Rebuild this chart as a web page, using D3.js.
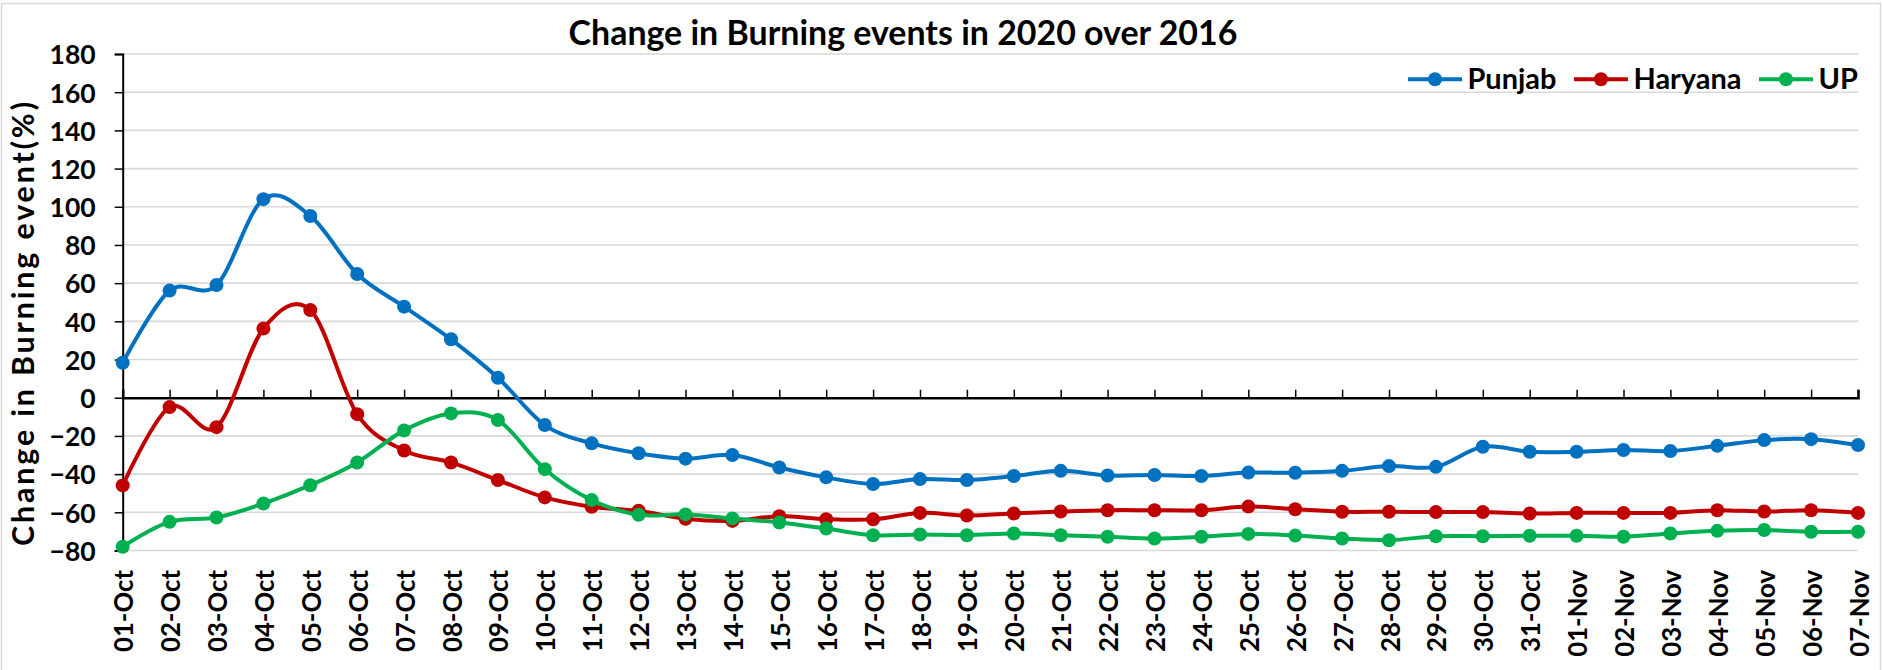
<!DOCTYPE html>
<html>
<head>
<meta charset="utf-8">
<script src="https://cdn.jsdelivr.net/npm/d3@7"></script>
<style>
  body { margin: 0; background: #fff; }
  svg { display: block; font-family: Lato, "Open Sans", sans-serif; font-weight: bold; }
</style>
</head>
<body>
<svg id="chart" width="1883" height="670"></svg>
<script>
"use strict";
const dates = ["01-Oct","02-Oct","03-Oct","04-Oct","05-Oct","06-Oct","07-Oct","08-Oct","09-Oct","10-Oct",
  "11-Oct","12-Oct","13-Oct","14-Oct","15-Oct","16-Oct","17-Oct","18-Oct","19-Oct","20-Oct",
  "21-Oct","22-Oct","23-Oct","24-Oct","25-Oct","26-Oct","27-Oct","28-Oct","29-Oct","30-Oct",
  "31-Oct","01-Nov","02-Nov","03-Nov","04-Nov","05-Nov","06-Nov","07-Nov"];

const punjab = [18.3, 56.1, 59.0, 104, 95.2, 64.8, 47.7, 30.6, 10.5, -14.3,
  -23.9, -29.1, -31.9, -30.0, -36.5, -41.7, -45.2, -42.6, -43.1, -41.0,
  -38.3, -40.7, -40.5, -41.0, -39.2, -39.3, -38.3, -35.8, -36.2, -25.7,
  -28.3, -28.3, -27.4, -27.9, -25.2, -22.2, -21.7, -24.8];
const haryana = [-45.9, -4.9, -15.4, 36.2, 45.9, -8.6, -27.6, -33.9, -43.1, -52.2,
  -57.1, -59.2, -63.4, -64.5, -62.0, -63.6, -63.7, -60.3, -61.7, -60.6,
  -59.6, -58.9, -58.9, -58.9, -57.0, -58.4, -59.7, -59.7, -59.9, -59.9,
  -60.6, -60.3, -60.3, -60.3, -58.9, -59.6, -58.9, -60.3];
const up = [-78.0, -65.0, -62.7, -55.4, -45.8, -33.9, -17.1, -8.2, -11.7, -37.4,
  -53.6, -61.3, -61.1, -63.2, -65.3, -68.5, -72.0, -71.6, -72.0, -71.1,
  -72.0, -72.8, -73.7, -72.8, -71.3, -72.2, -73.7, -74.6, -72.5, -72.5,
  -72.3, -72.3, -72.8, -71.1, -69.7, -69.3, -70.2, -70.2];

const seriesNames = ["Punjab", "Haryana", "UP"];
const seriesColors = ["#0070C0", "#C00000", "#00B050"];
const yTicks = [-80, -60, -40, -20, 0, 20, 40, 60, 80, 100, 120, 140, 160, 180];

const svg = d3.select("#chart");
const series = [punjab, haryana, up].map((values, i) => ({name: seriesNames[i], color: seriesColors[i], values}));

const x = d3.scalePoint().domain(dates).range([122.7, 1858]);
const y = d3.scaleLinear().domain([-80, 180]).range([550.5, 54]);

// fit a text's font size so its length matches the reference
function fitWidth(sel, target){
  const w = sel.node().getComputedTextLength();
  const fs = parseFloat(sel.attr("font-size"));
  sel.attr("font-size", fs * target / w);
  return fs * target / w;
}

// chart area border
svg.append("rect").attr("x", 1.5).attr("y", 3.5).attr("width", 1879).attr("height", 700)
  .attr("fill", "none").attr("stroke", "#d9d9d9").attr("stroke-width", 1.5);

// gridlines
svg.append("g").selectAll("line").data(yTicks.filter(d => d !== 0)).join("line")
  .attr("x1", x.range()[0]).attr("x2", x.range()[1])
  .attr("y1", d => y(d)).attr("y2", d => y(d))
  .attr("stroke", "#d9d9d9").attr("stroke-width", 1.6);

// y axis
const yAxis = svg.append("g").attr("transform", `translate(${x.range()[0]},0)`)
  .call(d3.axisLeft(y).tickValues(yTicks).tickSize(8).tickPadding(19));
yAxis.select(".domain").attr("stroke", "#000").attr("stroke-width", 2);
yAxis.selectAll(".tick line").attr("stroke", "#000").attr("stroke-width", 1.5);
yAxis.selectAll("text").attr("font-size", 26.5).attr("font-family", "Lato").attr("font-weight", "bold")
  .attr("fill", "#000").attr("dy", "0.37em");

// x axis at zero, ticks pointing up
const xAxis = svg.append("g").attr("transform", `translate(0,${y(0)})`)
  .call(d3.axisTop(x).tickSize(8).tickFormat(""));
xAxis.select(".domain").attr("stroke", "#000").attr("stroke-width", 2.5);
xAxis.selectAll(".tick line").attr("stroke", "#000").attr("stroke-width", 1.5);

// x labels at the bottom, rotated
const xLab = svg.append("g").attr("transform", `translate(0,570)`)
  .call(d3.axisBottom(x).tickSize(0).tickPadding(0));
xLab.select(".domain").remove();
const xTexts = xLab.selectAll("text").attr("font-family", "Lato").attr("font-weight", "bold")
  .attr("font-size", 26).attr("fill", "#000")
  .attr("text-anchor", "end").attr("dy", null).attr("y", 0)
  .attr("transform", "rotate(-90)").attr("x", 0).attr("dx", 0)
  .attr("dominant-baseline", "central");
const xfs = fitWidth(d3.select(xTexts.nodes()[0]), 82);
xTexts.attr("font-size", xfs);

// lines and markers
const line = d3.line().x((d, i) => x(dates[i])).y(d => y(d)).curve(d3.curveCardinal.tension(0));
const sg = svg.append("g").selectAll("g").data(series).join("g");
sg.append("path").attr("d", d => line(d.values)).attr("fill", "none")
  .attr("stroke", d => d.color).attr("stroke-width", 4);
sg.each(function(s){
  d3.select(this).selectAll("circle").data(s.values).join("circle")
    .attr("cx", (d, i) => x(dates[i])).attr("cy", d => y(d)).attr("r", 7).attr("fill", s.color);
});

// title
const title = svg.append("text").attr("x", 903).attr("y", 45).attr("text-anchor", "middle")
  .attr("font-size", 32).attr("fill", "#000").text("Change in Burning events in 2020 over 2016");
fitWidth(title, 669);

// y axis title: Calibri is narrower than Lato, so a smaller size spread to the same length
const yTitle = svg.append("text").attr("transform", "translate(34,324) rotate(-90)")
  .attr("text-anchor", "middle").attr("font-size", 32).attr("fill", "#000")
  .text("Change in Burning event(%)");
const ytfs = fitWidth(yTitle, 444);
yTitle.attr("font-size", ytfs * 0.84).attr("textLength", 444).attr("lengthAdjust", "spacing");

// legend
const legend = svg.append("g");
let lx = 1408;
let legendSize = null;
series.forEach((s, i) => {
  const item = legend.append("g");
  item.append("line").attr("x1", lx).attr("x2", lx + 54).attr("y1", 79.3).attr("y2", 79.3)
    .attr("stroke", s.color).attr("stroke-width", 4);
  item.append("circle").attr("cx", lx + 27).attr("cy", 79.3).attr("r", 7).attr("fill", s.color);
  const t = item.append("text").attr("x", lx + 59.5).attr("y", 89).attr("font-size", 28)
    .attr("fill", "#000").text(s.name);
  if (legendSize === null) legendSize = fitWidth(t, 89);
  t.attr("font-size", legendSize);
  lx += 59.5 + t.node().getComputedTextLength() + 17.5;
});
</script>
</body>
</html>
